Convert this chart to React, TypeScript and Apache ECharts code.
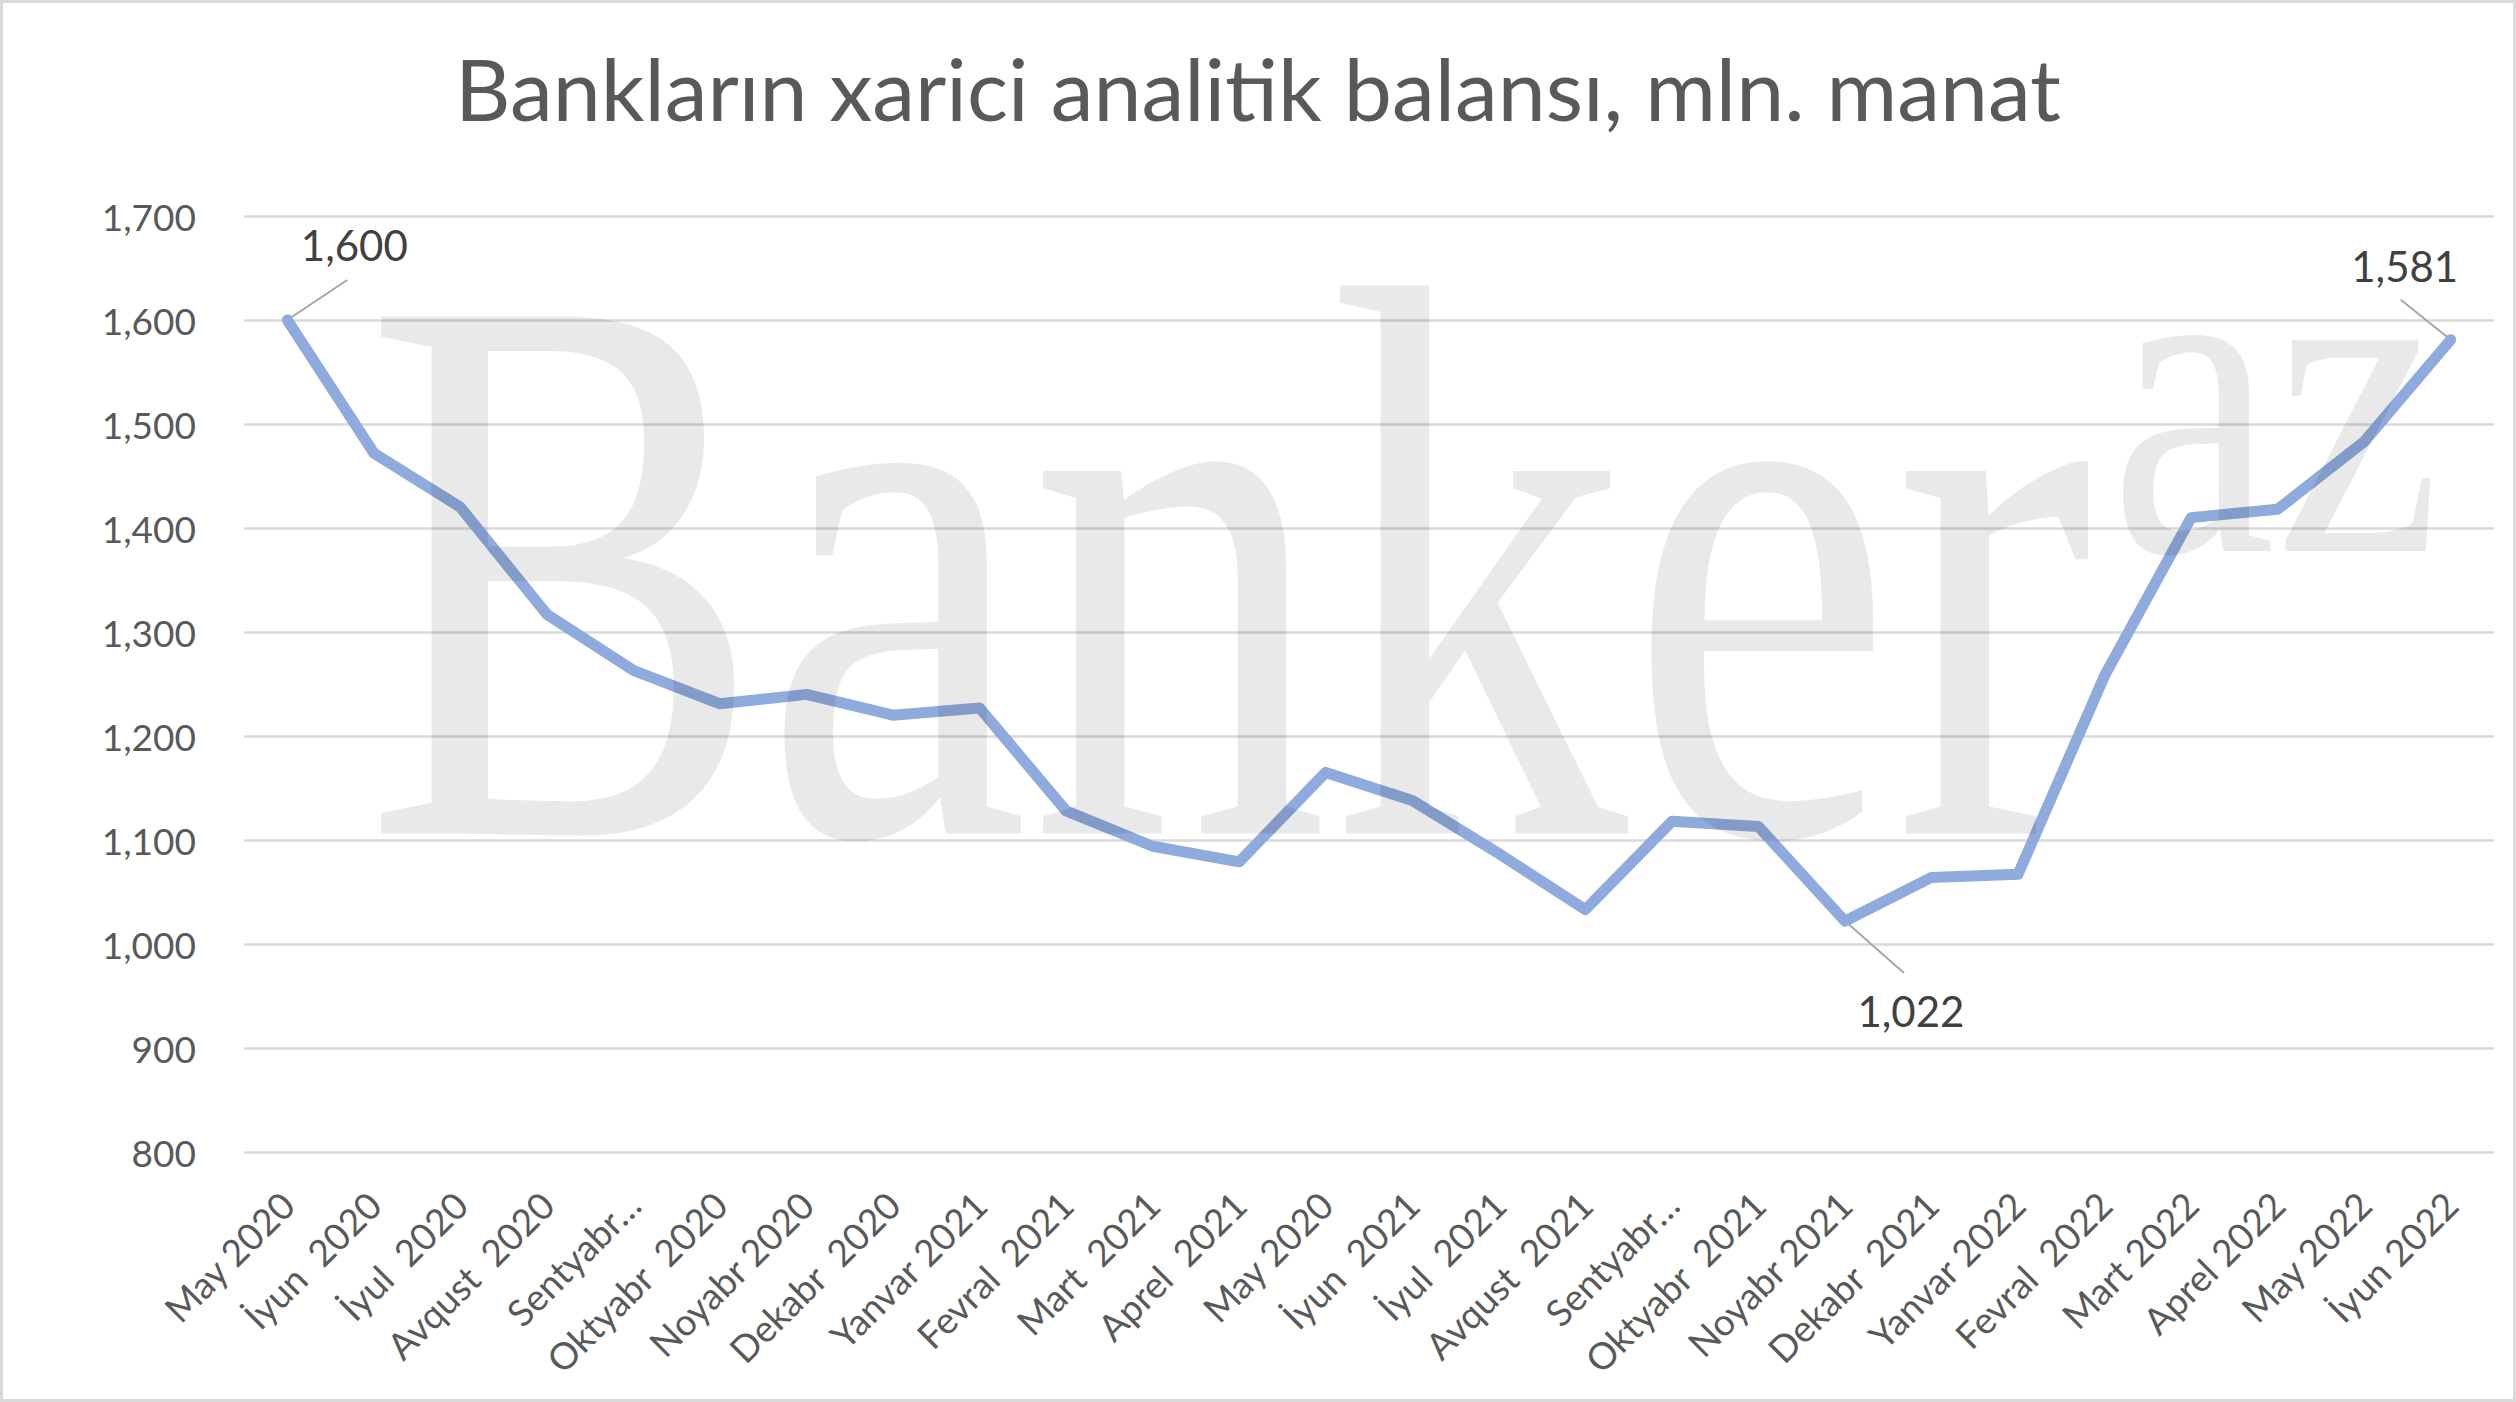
import React, { useEffect, useRef } from "react";
import * as echarts from "echarts";

const titleText = "Bankların xarici analitik balansı, mln. manat";

const categories = [
  "May 2020", "İyun  2020", "İyul  2020", "Avqust  2020", "Sentyabr…",
  "Oktyabr  2020", "Noyabr 2020", "Dekabr  2020", "Yanvar 2021", "Fevral  2021",
  "Mart  2021", "Aprel  2021", "May 2020", "İyun  2021", "İyul  2021",
  "Avqust  2021", "Sentyabr…", "Oktyabr  2021", "Noyabr 2021", "Dekabr  2021",
  "Yanvar 2022", "Fevral  2022", "Mart 2022", "Aprel 2022", "May 2022", "İyun 2022",
];

const values = [
  1600, 1472, 1420, 1317, 1263, 1231, 1240, 1220, 1227, 1128,
  1094, 1079, 1165, 1138, 1087, 1033, 1118, 1113, 1022, 1064,
  1067, 1258, 1410, 1418, 1483, 1581,
];

// indices of the points that carry a data label
const labeledIdx = [0, 18, 25];
// leader-line end offset and label-centre offset (px) relative to the point
const leaderEnd = [
  [60, -40],
  [59, 52],
  [-50, -40],
];
const labelOffset = [
  [67, -75],
  [66, 90],
  [-46, -74],
];

const yMin = 800;
const yMax = 1700;
const yStep = 100;

const fmt = (v: number) => Number(v).toLocaleString("en-US");

export default function App() {
  const ref = useRef<HTMLDivElement>(null);

  useEffect(() => {
    if (!ref.current) return;
    const chart = echarts.init(ref.current, undefined, { renderer: "svg" });

    const labelData = labeledIdx.map((i) => [i, values[i]]);

    chart.setOption({
      animation: false,
      backgroundColor: "#ffffff",
      title: {
        text: titleText,
        left: "center",
        top: 39,
        textStyle: {
          fontFamily: "Lato",
          fontSize: 86,
          fontWeight: "normal",
          color: "#595959",
        },
      },
      grid: { left: 244, right: 22, top: 216, bottom: 250 },
      xAxis: {
        type: "category",
        data: categories,
        boundaryGap: true,
        axisLine: { show: false },
        axisTick: { show: false },
        axisLabel: {
          interval: 0,
          rotate: 45,
          margin: 46,
          fontFamily: "Lato",
          fontSize: 37,
          color: "#595959",
        },
      },
      yAxis: {
        type: "value",
        min: yMin,
        max: yMax,
        interval: yStep,
        axisLine: { show: false },
        axisTick: { show: false },
        splitLine: { lineStyle: { color: "#d9d9d9", width: 2.5 } },
        axisLabel: {
          margin: 48,
          fontFamily: "Lato",
          fontSize: 37,
          color: "#595959",
          formatter: (v: number) => fmt(v),
        },
      },
      series: [
        {
          type: "custom",
          z: 1,
          data: labelData,
          encode: { x: 0, y: 1 },
          renderItem: (params: any, api: any) => {
            const k = params.dataIndex;
            const pt = api.coord([api.value(0), api.value(1)]);
            const v = api.value(1);
            return {
              type: "group",
              children: [
                {
                  type: "line",
                  shape: {
                    x1: pt[0],
                    y1: pt[1],
                    x2: pt[0] + leaderEnd[k][0],
                    y2: pt[1] + leaderEnd[k][1],
                  },
                  style: { stroke: "#a6a6a6", lineWidth: 2 },
                },
                {
                  type: "text",
                  x: pt[0] + labelOffset[k][0],
                  y: pt[1] + labelOffset[k][1],
                  style: {
                    text: fmt(v),
                    fontFamily: "Lato",
                    fontSize: 42,
                    fill: "#404040",
                    align: "center",
                    verticalAlign: "middle",
                    textAlign: "center",
                    textVerticalAlign: "middle",
                  },
                },
              ],
            };
          },
        },
        {
          type: "line",
          z: 2,
          data: values,
          showSymbol: false,
          symbol: "none",
          lineStyle: { color: "#8faadc", width: 11, cap: "round", join: "round" },
        },
      ],
      graphic: [
        {
          type: "text",
          z: 100,
          silent: true,
          x: 364,
          y: 567,
          scaleX: 0.758,
          style: {
            text: "Banker",
            font: "790px 'Liberation Serif'",
            fill: "rgba(0,0,0,0.088)",
            textAlign: "left",
            verticalAlign: "middle",
          },
        },
        {
          type: "text",
          z: 100,
          silent: true,
          x: 2110,
          y: 396,
          scaleX: 0.81,
          style: {
            text: "az",
            font: "460px 'Liberation Serif'",
            fill: "rgba(0,0,0,0.088)",
            textAlign: "left",
            verticalAlign: "middle",
          },
        },
        {
          type: "rect",
          z: 101,
          silent: true,
          shape: { x: 1.5, y: 1.5, width: 2513, height: 1399 },
          style: { fill: "none", stroke: "#d9d9d9", lineWidth: 3 },
        },
      ],
    });

    return () => chart.dispose();
  }, []);

  return (
    <div
      ref={ref}
      style={{ position: "absolute", left: 0, top: 0, width: 2516, height: 1402 }}
    />
  );
}
